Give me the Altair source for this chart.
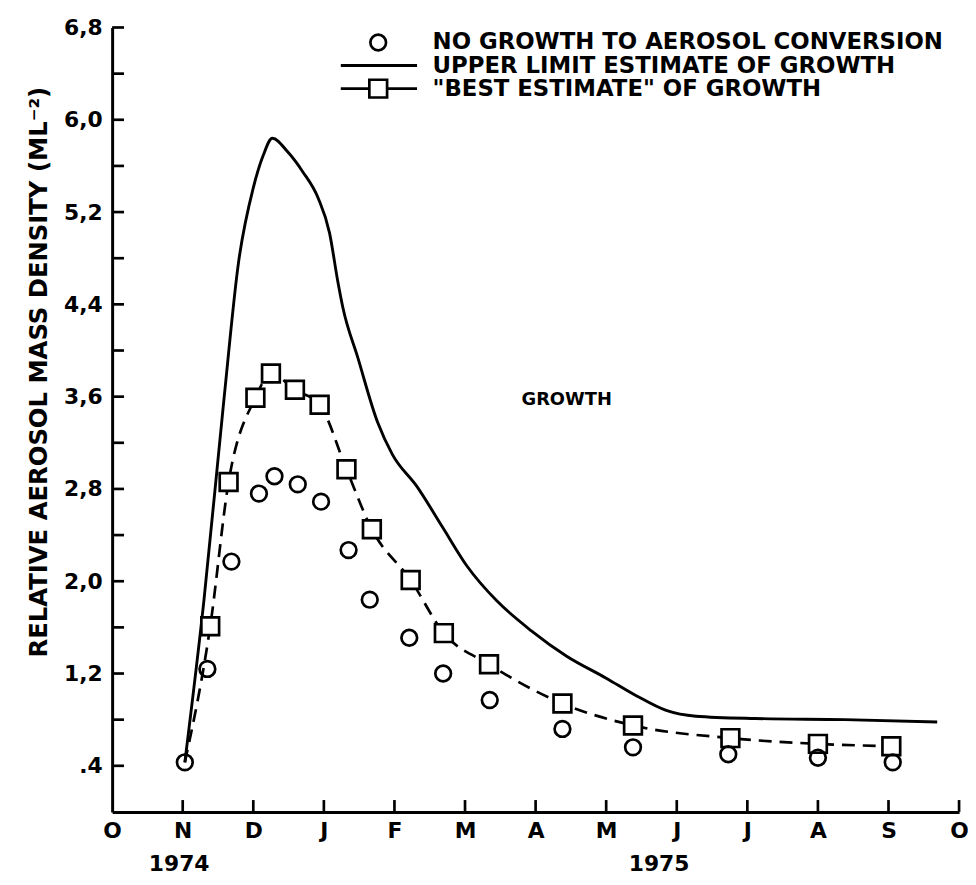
import altair as alt
import pandas as pd

# ---- axis ticks / labels ----
month_ticks = list(range(13))
month_labels = ["O", "N", "D", "J", "F", "M", "A", "M", "J", "J", "A", "S", "O"]
x_minor_ticks = list(range(1, 13))
y_tick_values = [0.4, 0.8, 1.2, 1.6, 2.0, 2.4, 2.8, 3.2, 3.6, 4.0, 4.4, 4.8,
                 5.2, 5.6, 6.0, 6.4, 6.8]
y_label_values = [0.4, 1.2, 2.0, 2.8, 3.6, 4.4, 5.2, 6.0, 6.8]
y_label_texts = [".4", "1,2", "2,0", "2,8", "3,6", "4,4", "5,2", "6,0", "6,8"]

# ---- series (x in months after Oct 1974) ----
nogrowth_x = [1.03, 1.35, 1.69, 2.08, 2.30, 2.63, 2.96, 3.35, 3.65, 4.21, 4.69,
              5.35, 6.38, 7.38, 8.73, 10.00, 11.06]
nogrowth_y = [0.43, 1.24, 2.17, 2.76, 2.91, 2.84, 2.69, 2.27, 1.84, 1.51, 1.20,
              0.97, 0.72, 0.56, 0.50, 0.47, 0.43]

upper_x = [1.03, 1.30, 1.58, 1.79, 2.00, 2.14, 2.27, 2.49, 2.70, 2.92, 3.08,
           3.20, 3.27, 3.48, 3.76, 3.97, 4.32, 4.68, 5.03, 5.45, 5.94, 6.44,
           7.00, 7.42, 7.85, 8.27, 9.11, 10.38, 11.69]
upper_y = [0.43, 1.83, 3.55, 4.76, 5.41, 5.69, 5.84, 5.72, 5.55, 5.32, 5.02,
           4.59, 4.37, 3.94, 3.38, 3.10, 2.82, 2.47, 2.13, 1.83, 1.57, 1.35,
           1.16, 1.01, 0.88, 0.83, 0.81, 0.80, 0.78]

best_x = [1.39, 1.65, 2.03, 2.25, 2.59, 2.94, 3.32, 3.68, 4.23, 4.70, 5.34,
          6.38, 7.38, 8.76, 10.00, 11.04]
best_y = [1.61, 2.86, 3.59, 3.80, 3.66, 3.53, 2.97, 2.45, 2.01, 1.55, 1.28,
          0.94, 0.75, 0.64, 0.59, 0.57]
best_start_x = [1.03]
best_start_y = [0.43]

# ---- annotations ----
legend_texts = ["NO GROWTH TO AEROSOL CONVERSION",
                "UPPER LIMIT ESTIMATE OF GROWTH",
                "\"BEST ESTIMATE\" OF GROWTH"]
legend_text_x = [4.54, 4.54, 4.54]
legend_text_y = [6.67, 6.47, 6.27]
legend_symbol_x = 3.77
legend_line_x = [3.24, 4.32]
note_text = ["GROWTH"]
note_x = [6.44]
note_y = [3.57]
year_texts = ["1974", "1975"]
year_x = [0.95, 7.75]
year_y = [-0.45, -0.45]

FONT = "DejaVu Sans"
FS = 22
W, H = 854, 791

xs = alt.Scale(domain=[0, 12], nice=False, zero=False)
ys = alt.Scale(domain=[0, 6.8], nice=False, zero=False)

x_label_expr = "[" + ",".join(f"'{t}'" for t in month_labels) + "][round(datum.value)]"
y_label_expr = ("[" + ",".join(f"'{t}'" for t in y_label_texts) +
                "][round((datum.value - 0.4) / 0.8)]")

x_axis = alt.Axis(values=month_ticks, labelExpr=x_label_expr, ticks=False,
                  grid=False, domainColor="black", domainWidth=3,
                  labelFont=FONT, labelFontSize=FS, labelFontWeight="bold",
                  labelColor="black", labelPadding=9, title=None, labelFlush=False)
y_axis = alt.Axis(values=y_label_values, labelExpr=y_label_expr, ticks=False,
                  grid=False, domainColor="black", domainWidth=3,
                  labelFont=FONT, labelFontSize=FS, labelFontWeight="bold",
                  labelColor="black", labelPadding=10,
                  title="RELATIVE AEROSOL MASS DENSITY (ML⁻²)",
                  titleFont=FONT, titleFontSize=24.5, titleFontWeight="bold",
                  titleColor="black", titleX=-73, titleY=347,
                  titleBaseline="middle", titleAlign="center", labelFlush=False)

upper_df = pd.DataFrame({"x": upper_x, "y": upper_y})
best_line_df = pd.DataFrame({"x": best_start_x + best_x, "y": best_start_y + best_y})
best_df = pd.DataFrame({"x": best_x, "y": best_y})
ng_df = pd.DataFrame({"x": nogrowth_x, "y": nogrowth_y})

base_axes = alt.Chart(upper_df).mark_line(strokeWidth=2.9, color="black",
                                          interpolate="monotone").encode(
    x=alt.X("x:Q", scale=xs, axis=x_axis),
    y=alt.Y("y:Q", scale=ys, axis=y_axis),
)

best_line = alt.Chart(best_line_df).mark_line(
    strokeWidth=2.7, color="black", strokeDash=[13, 8], interpolate="monotone"
).encode(x=alt.X("x:Q", scale=xs), y=alt.Y("y:Q", scale=ys))

best_pts = alt.Chart(best_df).mark_point(
    shape="square", size=320, filled=True, fill="white", stroke="black",
    strokeWidth=2.7, opacity=1
).encode(x=alt.X("x:Q", scale=xs), y=alt.Y("y:Q", scale=ys))

ng_pts = alt.Chart(ng_df).mark_point(
    shape="circle", size=250, filled=False, stroke="black", strokeWidth=2.7,
    opacity=1
).encode(x=alt.X("x:Q", scale=xs), y=alt.Y("y:Q", scale=ys))

# inward axis ticks
y_ticks = alt.Chart(pd.DataFrame({"v": y_tick_values})).mark_rule(
    color="black", strokeWidth=2.7
).encode(x=alt.value(0), x2=alt.value(12), y=alt.Y("v:Q", scale=ys))

x_ticks = alt.Chart(pd.DataFrame({"m": x_minor_ticks})).mark_rule(
    color="black", strokeWidth=2.7
).encode(x=alt.X("m:Q", scale=xs), y=alt.value(H), y2=alt.value(H - 12))

# legend
leg_text_df = pd.DataFrame({"t": legend_texts, "x": legend_text_x, "y": legend_text_y})
leg_text = alt.Chart(leg_text_df).mark_text(
    align="left", baseline="middle", font=FONT, fontSize=23, fontWeight="bold",
    color="black"
).encode(x=alt.X("x:Q", scale=xs), y=alt.Y("y:Q", scale=ys), text="t:N")

leg_circle = alt.Chart(pd.DataFrame({"x": [legend_symbol_x], "y": [legend_text_y[0]]})).mark_point(
    shape="circle", size=250, filled=False, stroke="black", strokeWidth=2.7, opacity=1
).encode(x=alt.X("x:Q", scale=xs), y=alt.Y("y:Q", scale=ys))

leg_lines_df = pd.DataFrame({
    "x": [legend_line_x[0], legend_line_x[0]],
    "x2": [legend_line_x[1], legend_line_x[1]],
    "y": [legend_text_y[1], legend_text_y[2]],
})
leg_lines = alt.Chart(leg_lines_df).mark_rule(color="black", strokeWidth=2.9).encode(
    x=alt.X("x:Q", scale=xs), x2="x2:Q", y=alt.Y("y:Q", scale=ys)
)
leg_square = alt.Chart(pd.DataFrame({"x": [legend_symbol_x], "y": [legend_text_y[2]]})).mark_point(
    shape="square", size=320, filled=True, fill="white", stroke="black",
    strokeWidth=2.7, opacity=1
).encode(x=alt.X("x:Q", scale=xs), y=alt.Y("y:Q", scale=ys))

note = alt.Chart(pd.DataFrame({"t": note_text, "x": note_x, "y": note_y})).mark_text(
    align="center", baseline="middle", font=FONT, fontSize=18, fontWeight="bold",
    color="black"
).encode(x=alt.X("x:Q", scale=xs), y=alt.Y("y:Q", scale=ys), text="t:N")

years = alt.Chart(pd.DataFrame({"t": year_texts, "x": year_x, "y": year_y})).mark_text(
    align="center", baseline="middle", font=FONT, fontSize=FS, fontWeight="bold",
    color="black"
).encode(x=alt.X("x:Q", scale=xs), y=alt.Y("y:Q", scale=ys), text="t:N")

chart = alt.layer(
    base_axes, best_line, y_ticks, x_ticks, best_pts, ng_pts,
    leg_lines, leg_square, leg_circle, leg_text, note, years
).properties(
    width=W, height=H,
    autosize=alt.AutoSizeParams(type="none"),
    padding={"left": 105, "top": 16, "right": 9, "bottom": 70},
    background="white",
).configure_view(stroke=None)

chart.save("out.html", embed_options={"renderer": "svg", "actions": False})
